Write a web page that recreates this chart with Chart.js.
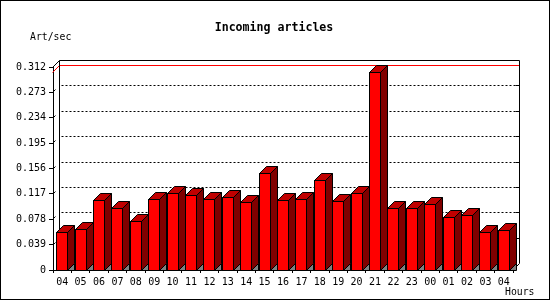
<!DOCTYPE html>
<html>
<head>
<meta charset="utf-8">
<script src="https://cdn.jsdelivr.net/npm/chart.js@4/dist/chart.umd.min.js"></script>
<style>
  html, body { margin: 0; padding: 0; background: #fff; }
  #wrap { width: 550px; height: 300px; }
</style>
</head>
<body>
<div id="wrap"><canvas id="chart" width="550" height="300"></canvas></div>
<script>
// data
const hours = ['04','05','06','07','08','09','10','11','12','13','14','15','16',
               '17','18','19','20','21','22','23','00','01','02','03','04'];
const artPerSec = [0.058, 0.063, 0.107, 0.094, 0.075, 0.109, 0.117, 0.115, 0.109,
                   0.111, 0.104, 0.149, 0.107, 0.109, 0.137, 0.106, 0.118, 0.304,
                   0.095, 0.094, 0.101, 0.081, 0.084, 0.058, 0.060];
const yTicks = [0, 0.039, 0.078, 0.117, 0.156, 0.195, 0.234, 0.273, 0.312];

const DEPTH = 7;
const monoFont = '"DejaVu Sans Mono", monospace';

// back wall, dotted grid, max line
const backWall = {
  id: 'backWall',
  beforeDatasetsDraw(chart) {
    const { ctx, chartArea: a, scales: { y } } = chart;
    const L = Math.round(a.left) - 0.5, R = Math.round(a.right) - 0.5;
    const T = Math.round(a.top) + 0.5, B = Math.round(a.bottom) + 0.5;
    ctx.save();
    ctx.lineWidth = 1;
    ctx.strokeStyle = '#000';

    // dotted lines on the back wall
    ctx.setLineDash([2, 2]);
    yTicks.slice(1, -1).forEach(v => {
      const yy = Math.round(y.getPixelForValue(v)) + 0.5 - DEPTH;
      ctx.beginPath();
      ctx.moveTo(L + DEPTH + 2, yy);
      ctx.lineTo(R + DEPTH, yy);
      ctx.stroke();
    });
    ctx.setLineDash([]);

    // little ticks on the side wall and right edge
    yTicks.slice(1, -1).forEach(v => {
      const yy = Math.round(y.getPixelForValue(v)) + 0.5;
      ctx.beginPath();
      ctx.moveTo(L + 1, yy - 1);
      ctx.lineTo(L + 3, yy - 3);
      ctx.moveTo(R + DEPTH - 4, yy - DEPTH);
      ctx.lineTo(R + DEPTH, yy - DEPTH);
      ctx.stroke();
    });

    // max value line
    const maxV = Math.max(...artPerSec);
    const my = Math.round(y.getPixelForValue(maxV)) + 0.5;
    ctx.strokeStyle = '#ff0000';
    ctx.beginPath();
    ctx.moveTo(L, my);
    ctx.lineTo(L + DEPTH, my - DEPTH);
    ctx.lineTo(R + DEPTH, my - DEPTH);
    ctx.stroke();

    // frame of the box
    ctx.strokeStyle = '#000';
    ctx.beginPath();
    ctx.moveTo(L, T);
    ctx.lineTo(L + DEPTH, T - DEPTH);
    ctx.lineTo(R + DEPTH, T - DEPTH);
    ctx.lineTo(R + DEPTH, B - DEPTH);
    ctx.lineTo(R, B);
    ctx.moveTo(L + DEPTH, T - DEPTH);
    ctx.lineTo(L + DEPTH, B - DEPTH);
    ctx.stroke();
    ctx.restore();
  }
};

// pseudo 3d bars
const bars3d = {
  id: 'bars3d',
  afterDatasetsDraw(chart) {
    const { ctx } = chart;
    const meta = chart.getDatasetMeta(0);
    ctx.save();
    ctx.lineWidth = 1;
    ctx.strokeStyle = '#000';
    meta.data.forEach(bar => {
      const p = bar.getProps(['x', 'y', 'base', 'width'], true);
      const l = Math.floor(p.x - p.width / 2) + 0.5;
      const r = Math.ceil(p.x + p.width / 2) - 0.5;
      const t = Math.floor(p.y) + 0.5;
      const b = Math.round(p.base) + 0.5;
      const d = DEPTH;

      // floor shadow
      ctx.fillStyle = '#808080';
      ctx.beginPath();
      ctx.moveTo(r, b); ctx.lineTo(r + d, b - d); ctx.lineTo(r + d, b);
      ctx.closePath(); ctx.fill(); ctx.stroke();

      // side
      ctx.fillStyle = '#800000';
      ctx.beginPath();
      ctx.moveTo(r, t); ctx.lineTo(r + d, t - d); ctx.lineTo(r + d, b - d); ctx.lineTo(r, b);
      ctx.closePath(); ctx.fill(); ctx.stroke();

      // top
      ctx.fillStyle = '#c00000';
      ctx.beginPath();
      ctx.moveTo(l, t); ctx.lineTo(l + d, t - d); ctx.lineTo(r + d, t - d); ctx.lineTo(r, t);
      ctx.closePath(); ctx.fill(); ctx.stroke();

      // front
      ctx.fillStyle = '#ff0000';
      ctx.fillRect(l, t, r - l, b - t);
      ctx.strokeRect(l, t, r - l, b - t);
    });
    ctx.restore();
  }
};

// texts and outer border
const labels = {
  id: 'labels',
  afterDraw(chart) {
    const { ctx, width, height } = chart;
    ctx.save();
    ctx.fillStyle = '#000';
    ctx.textBaseline = 'middle';
    ctx.font = 'bold 11.6px ' + monoFont;
    ctx.textAlign = 'center';
    ctx.fillText('Incoming articles', 274, 28);
    ctx.font = '9.8px ' + monoFont;
    ctx.textAlign = 'left';
    ctx.fillText('Art/sec', 30, 37);
    ctx.fillText('Hours', 505, 292);
    ctx.strokeStyle = '#000';
    ctx.lineWidth = 1;
    ctx.strokeRect(0.5, 0.5, width - 1, height - 1);
    ctx.restore();
  }
};

new Chart(document.getElementById('chart'), {
  type: 'bar',
  data: {
    labels: hours,
    datasets: [{
      label: 'Art/sec',
      data: artPerSec,
      backgroundColor: '#ff0000',
      borderWidth: 0,
      categoryPercentage: 1,
      barPercentage: 0.6
    }]
  },
  options: {
    responsive: false,
    animation: false,
    events: [],
    layout: { padding: { left: 0, right: 37, top: 67, bottom: 0 } },
    plugins: {
      legend: { display: false },
      title: { display: false },
      tooltip: { enabled: false }
    },
    scales: {
      x: {
        afterFit: s => { s.height = 30; },
        grid: { drawOnChartArea: false, tickLength: 3, color: '#000', offset: true },
        border: { display: true, color: '#000' },
        ticks: { color: '#000', font: { family: monoFont, size: 10 }, padding: 3, maxRotation: 0, autoSkip: false }
      },
      y: {
        min: 0,
        max: 0.312,
        afterFit: s => { s.width = 53; },
        afterBuildTicks: s => { s.ticks = yTicks.map(v => ({ value: v })); },
        grid: { drawOnChartArea: false, tickLength: 4, color: '#000' },
        border: { display: true, color: '#000' },
        ticks: {
          color: '#000',
          font: { family: monoFont, size: 10 },
          padding: 3,
          callback: v => v === 0 ? '0' : v.toFixed(3)
        }
      }
    }
  },
  plugins: [backWall, bars3d, labels]
});
</script>
</body>
</html>
